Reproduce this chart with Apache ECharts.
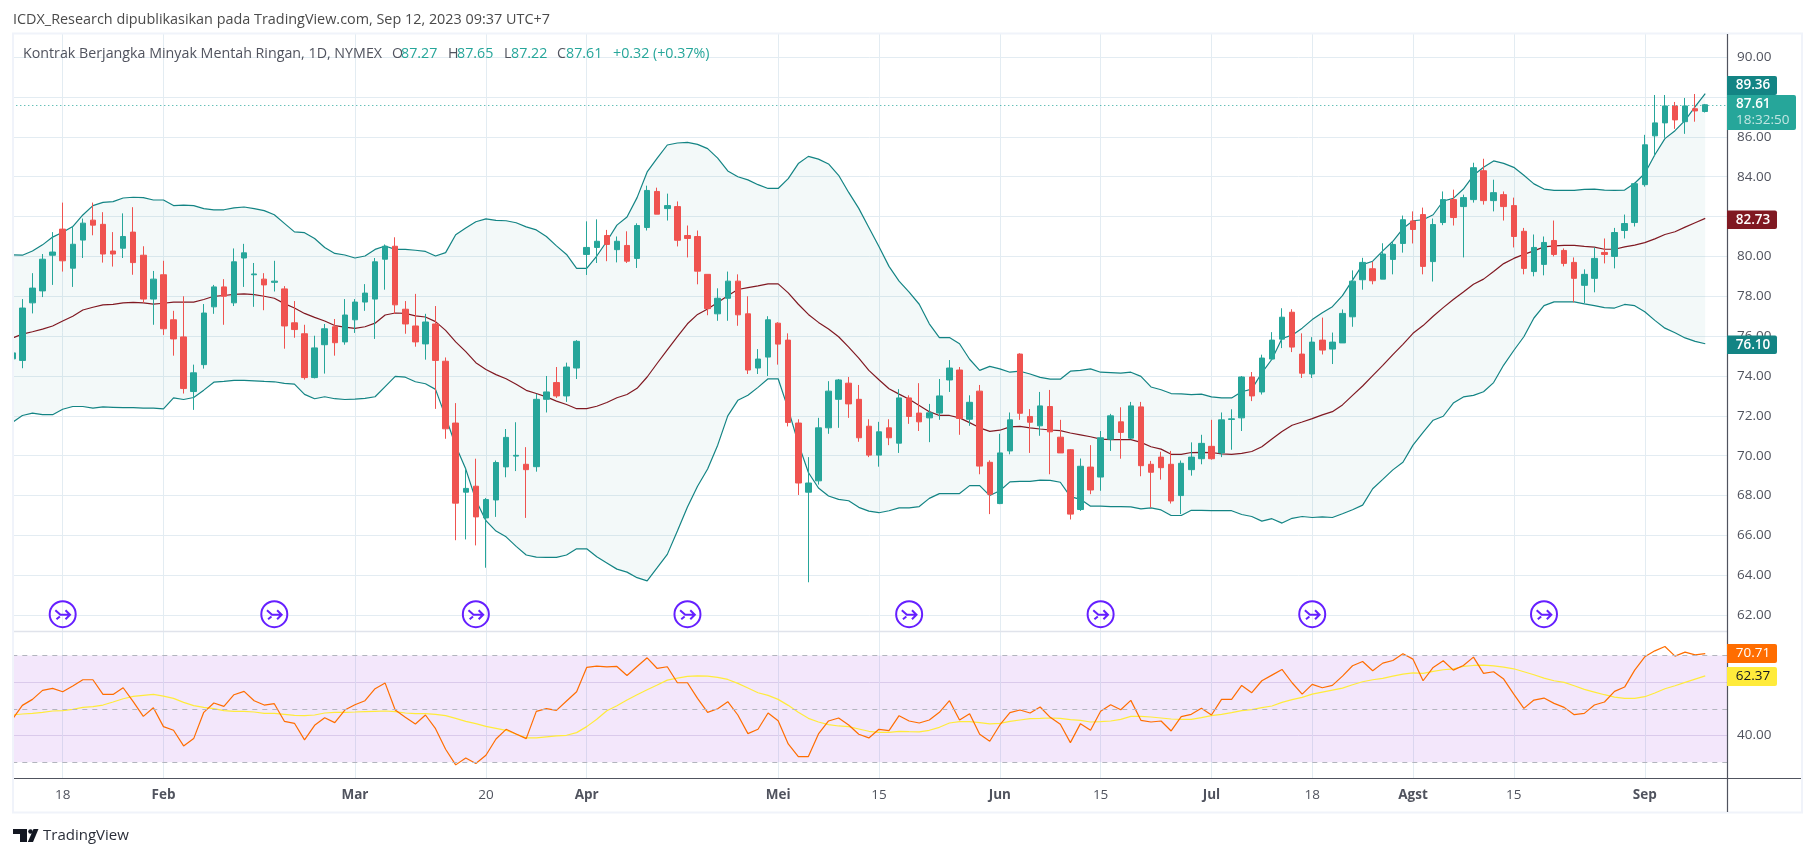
<!DOCTYPE html>
<html><head><meta charset="utf-8"><title>Kontrak Berjangka Minyak Mentah Ringan</title>
<style>html,body{margin:0;padding:0;background:#fff}#c{width:1815px;height:857px}</style>
<script src="https://cdn.jsdelivr.net/npm/echarts@6/dist/echarts.min.js"></script></head>
<body><div id="c"></div>
<script>
const tickIdx=[5,15,34,47,57,76,86,98,108,119,129,139,149,162];
const tickLabels=["18","Feb","Mar","20","Apr","Mei","15","Jun","15","Jul","18","Agst","15","Sep"];
const priceTicks=[62,64,66,68,70,72,74,76,78,80,82,84,86,88,90];
const rsiTicks=[40,60];
const rsiGuides=[30,50,70];
const eventIdx=[5,26,46,67,89,108,129,152];
const opens=[74.86,74.78,77.67,78.27,80.06,81.37,79.41,80.82,81.82,81.61,
80.27,80.41,81.22,80.06,77.86,79.08,76.82,75.96,73.22,74.57,
77.47,78.47,77.67,79.92,79.08,78.86,78.7,78.37,76.67,76.12,
73.92,75.57,76.47,75.71,76.82,77.71,77.86,79.86,80.51,77.35,
76.51,75.61,76.61,74.74,71.64,68.17,68.47,66.88,67.78,69.44,
69.98,69.57,69.45,72.83,73.67,73.0,74.4,80.1,80.45,81.05,
80.34,80.55,79.9,81.45,83.26,82.4,82.5,81.05,81.0,79.1,
77.12,77.9,78.76,77.12,74.4,74.95,76.65,75.8,71.64,68.17,
68.74,71.4,72.83,73.64,72.83,71.48,70.03,71.4,70.63,72.9,
72.14,71.9,72.14,73.8,74.3,71.83,73.24,69.67,67.6,70.24,
75.1,71.97,71.5,72.47,70.93,70.3,67.3,69.43,68.93,70.83,
71.7,70.88,72.45,69.57,69.93,69.57,68.0,69.3,69.85,70.47,
70.14,71.82,71.9,73.95,73.2,74.85,75.85,77.2,75.1,74.1,
75.8,75.35,75.66,76.97,78.83,79.38,78.86,79.85,80.65,81.78,
82.1,79.74,81.7,82.85,82.5,82.85,84.3,82.8,83.1,82.55,
81.26,79.24,79.6,80.8,80.3,79.7,78.55,78.9,80.2,80.0,
81.3,81.7,83.6,86.05,86.7,87.55,86.76,87.41,87.27];
const closes=[75.16,77.41,78.41,79.86,80.22,79.78,80.61,81.67,81.57,80.12,
80.12,81.0,79.69,77.86,78.86,76.37,75.86,73.37,74.16,77.16,
78.47,78.0,79.73,80.18,79.12,78.57,78.76,76.51,76.33,73.92,
75.41,76.37,75.67,77.06,77.71,78.16,79.73,80.51,77.57,76.61,
75.71,76.71,74.78,71.35,67.62,68.36,66.93,67.8,69.66,70.92,
70.02,69.3,72.83,73.2,73.0,74.45,75.74,80.45,80.76,80.6,
80.76,79.76,81.55,83.31,82.12,82.55,80.81,80.9,79.26,77.38,
77.9,78.76,77.07,74.3,74.85,76.82,75.6,71.67,68.63,68.63,
71.4,73.24,73.8,72.6,70.9,70.03,71.2,70.9,72.9,71.97,
71.7,72.15,73.0,74.4,71.87,72.68,69.48,68.07,70.14,71.8,
72.13,71.68,72.5,71.2,70.14,67.07,69.47,68.28,70.9,72.0,
71.17,72.5,69.5,69.17,69.4,67.73,69.62,69.93,70.62,69.85,
71.8,71.85,73.95,73.0,74.9,75.8,76.95,75.45,74.14,75.7,
75.3,75.7,77.14,78.76,79.7,78.78,80.12,80.6,81.84,81.35,
79.5,81.6,82.85,81.95,82.95,84.45,82.8,83.2,82.5,81.0,
79.4,80.45,80.7,80.1,79.65,78.9,79.1,79.9,80.1,81.2,
81.65,83.65,85.6,86.7,87.55,86.85,87.55,87.3,87.61];
const lows=[74.7,74.39,77.14,77.96,78.57,79.24,78.47,79.92,81.06,79.69,
79.49,79.92,79.08,77.67,76.57,76.06,75.02,73.12,72.3,74.37,
77.12,76.57,77.51,78.47,77.47,77.3,78.24,75.37,75.92,73.82,
73.88,74.12,75.02,75.57,76.16,77.27,75.86,78.33,77.12,76.12,
75.47,74.82,72.35,70.85,65.76,65.8,65.5,64.38,66.93,68.92,
69.23,66.88,69.2,72.17,72.9,72.7,73.85,79.07,79.67,79.76,
79.7,79.67,79.42,81.3,82.12,81.8,80.5,79.95,78.6,77.05,
76.77,76.77,76.52,74.1,74.1,74.0,74.57,71.47,68.03,63.65,
68.55,71.1,71.4,71.9,70.7,69.93,69.45,70.53,70.14,71.6,
71.24,70.68,71.8,73.2,71.05,71.5,69.07,67.07,67.57,70.07,
71.8,70.14,71.0,69.07,70.14,66.8,67.23,68.07,68.24,70.24,
69.85,70.83,68.97,67.4,68.8,67.6,67.07,69.0,69.57,69.8,
69.93,70.3,71.24,72.74,73.07,74.85,75.4,75.2,73.9,73.9,
75.08,74.6,75.66,76.47,78.33,78.6,78.86,79.1,80.19,80.65,
79.1,78.74,81.57,81.55,79.95,82.7,82.6,82.26,81.8,80.45,
79.1,79.0,79.05,80.0,79.5,77.7,77.65,78.2,79.65,79.4,
80.9,81.5,83.5,85.03,85.95,86.4,86.15,86.76,87.22];
const highs=[75.4,77.86,79.16,80.12,81.22,82.7,81.53,81.9,82.7,82.22,
81.22,82.16,82.47,80.51,79.27,79.78,77.27,78.0,74.57,77.61,
78.57,78.86,80.4,80.63,79.67,79.16,79.78,78.51,77.76,76.57,
76.02,76.61,76.86,77.86,77.86,78.61,79.92,80.6,80.96,77.76,
78.12,77.12,77.51,74.93,72.64,69.36,69.85,67.88,69.76,71.34,
71.68,70.43,73.1,74.0,74.45,74.67,75.8,81.76,81.86,81.33,
81.0,81.26,81.66,83.55,83.45,83.15,82.76,81.55,81.3,79.1,
78.4,79.24,79.1,78.0,75.35,77.0,76.7,76.14,71.83,69.93,
71.9,73.74,73.85,73.95,73.55,71.83,71.7,71.83,73.34,73.03,
73.64,72.6,73.85,74.8,74.45,73.03,73.55,69.77,71.1,72.17,
75.14,72.34,73.2,73.3,71.8,70.33,69.86,70.53,71.24,72.1,
72.43,72.7,72.7,69.74,70.2,70.24,69.76,70.67,71.05,71.8,
72.17,72.33,74.0,74.2,75.07,76.2,77.4,77.35,76.14,75.95,
76.93,76.18,77.34,79.3,79.93,79.73,80.66,80.76,82.05,82.26,
82.45,81.9,83.26,83.35,83.1,84.7,84.9,83.85,83.26,82.95,
81.43,81.1,81.0,81.8,80.4,79.95,79.35,80.45,80.9,81.43,
82.1,83.7,86.1,88.1,88.1,87.75,87.95,88.15,87.65];
const bbUpper=[80.08,80.06,80.27,80.58,80.97,81.21,81.5,82.08,82.55,82.71,82.75,82.93,82.97,82.95,82.83,82.83,82.55,82.57,82.55,82.4,82.34,82.34,82.44,82.48,82.4,82.3,82.09,81.66,81.23,81.19,80.9,80.45,80.15,80.07,79.92,80.02,80.35,80.52,80.35,80.35,80.31,80.25,80.02,80.19,81.09,
81.43,81.74,81.88,81.81,81.79,81.69,81.48,81.33,81.0,80.53,80.1,79.4,79.4,80.02,80.76,81.57,81.98,82.95,84.24,84.93,85.59,85.69,85.72,85.62,85.41,84.93,84.29,84.0,83.84,83.6,83.41,83.41,83.9,84.66,85.02,84.88,84.64,84.07,83.21,82.41,81.45,80.5,79.5,78.76,
78.21,77.6,76.62,75.93,75.93,75.62,74.84,74.28,74.48,74.36,74.19,74.24,74.1,73.93,73.84,73.84,74.24,74.28,74.36,74.19,74.17,74.14,74.19,73.98,73.45,73.31,73.12,73.1,73.07,73.09,72.95,72.9,72.9,73.21,73.34,74.16,74.84,75.88,76.05,76.4,76.83,77.17,77.48,
78.03,78.81,79.59,79.76,80.28,80.76,81.4,81.79,81.84,82.09,82.78,82.91,83.38,84.07,84.47,84.79,84.67,84.47,84.07,83.64,83.38,83.31,83.31,83.31,83.36,83.38,83.33,83.31,83.33,83.67,84.16,85.1,85.91,86.31,86.83,87.52,88.17];
const bbMiddle=[75.9,76.1,76.22,76.35,76.51,76.76,77.0,77.31,77.45,77.57,77.59,77.67,77.69,77.67,77.61,77.65,77.71,77.71,77.71,77.84,78.0,78.04,78.1,78.12,78.08,78.0,77.9,77.63,77.41,77.14,76.94,76.76,76.53,76.45,76.39,76.47,76.65,77.06,77.16,77.14,77.02,76.96,76.73,76.29,75.71,
75.22,74.67,74.33,74.07,73.86,73.59,73.28,73.12,72.95,72.74,72.57,72.36,72.36,72.48,72.67,72.91,73.07,73.38,73.95,74.64,75.31,75.97,76.62,77.09,77.36,77.69,78.03,78.34,78.43,78.52,78.62,78.62,78.17,77.6,77.09,76.69,76.36,75.97,75.45,74.9,74.28,73.81,73.36,73.09,
72.83,72.52,72.21,72.02,72.02,71.9,71.66,71.4,71.22,71.28,71.45,71.47,71.4,71.34,71.29,71.26,71.14,71.05,70.95,70.83,70.81,70.81,70.81,70.67,70.45,70.33,70.07,70.07,70.16,70.17,70.16,70.09,70.07,70.12,70.21,70.45,70.84,71.21,71.53,71.69,71.86,72.05,72.21,
72.55,73.03,73.5,74.02,74.53,75.07,75.59,76.14,76.53,77.0,77.43,77.84,78.21,78.6,78.86,79.24,79.64,79.9,80.1,80.28,80.48,80.53,80.55,80.55,80.5,80.47,80.36,80.36,80.48,80.57,80.69,80.88,81.1,81.24,81.47,81.69,81.91];
const bbLower=[71.67,72.02,72.14,72.06,72.06,72.33,72.47,72.47,72.39,72.45,72.43,72.41,72.41,72.39,72.39,72.35,72.9,72.82,72.92,73.29,73.69,73.73,73.78,73.78,73.76,73.73,73.71,73.63,73.59,73.08,72.86,72.96,72.86,72.82,72.84,72.88,72.96,73.47,73.98,73.94,73.71,73.61,73.33,71.95,70.5,69.33,67.78,
66.74,66.22,65.93,65.45,65.02,64.91,64.9,64.9,65.02,65.33,65.33,64.93,64.62,64.31,64.16,63.88,63.72,64.38,65.05,66.22,67.43,68.47,69.33,70.53,72.0,72.78,73.03,73.43,73.86,73.86,72.34,70.62,69.16,68.38,67.98,67.81,67.74,67.41,67.22,67.14,67.24,67.38,
67.38,67.45,67.86,68.1,68.1,68.1,68.5,68.5,68.0,68.24,68.69,68.71,68.71,68.78,68.76,68.67,67.95,67.81,67.47,67.47,67.45,67.45,67.43,67.33,67.38,67.28,67.0,67.0,67.26,67.26,67.24,67.24,67.24,67.05,66.95,66.72,66.84,66.62,66.86,66.95,66.9,66.93,66.9,
67.09,67.29,67.52,68.34,68.81,69.29,69.67,70.53,71.17,71.78,71.98,72.64,72.95,73.03,73.21,73.67,74.55,75.28,75.97,76.91,77.53,77.72,77.72,77.72,77.62,77.53,77.43,77.41,77.59,77.53,77.22,76.79,76.4,76.17,75.91,75.74,75.62];
const rsi=[46.09,51.32,53.56,56.92,57.67,56.43,58.54,60.91,60.91,55.43,55.43,57.92,52.69,47.21,50.45,43.35,41.98,36.13,38.87,48.71,52.19,50.95,55.31,56.55,53.06,51.44,51.94,45.34,44.6,38.37,43.85,46.71,44.84,49.58,51.57,53.06,57.55,59.66,49.58,46.84,44.35,47.71,42.6,34.88,29.03,31.64,29.53,32.64,38.74,42.35,40.61,38.87,49.08,50.07,49.45,52.94,56.43,65.52,66.01,65.77,
65.89,62.53,65.89,69.13,65.14,65.77,59.79,59.79,53.94,48.71,50.07,52.69,47.71,40.73,42.35,48.46,45.59,36.87,32.14,32.14,40.61,45.47,46.59,43.97,40.49,39.12,42.35,41.86,47.46,45.47,44.72,45.84,48.71,53.06,45.84,48.21,40.49,37.87,43.97,48.58,49.58,48.46,50.7,46.84,44.22,37.37,44.47,41.98,49.08,51.57,49.7,53.19,45.72,45.09,45.47,41.73,47.09,47.96,50.2,
47.71,53.56,53.56,58.79,56.05,60.54,62.65,64.77,59.79,55.55,59.17,57.92,58.79,62.28,66.14,67.76,64.27,67.14,68.13,70.62,68.63,60.54,65.52,68.01,64.52,66.26,69.38,63.28,63.9,61.16,55.55,50.2,53.31,54.06,52.07,50.57,47.83,48.33,51.44,52.57,56.55,58.17,64.52,69.5,71.74,73.36,69.75,71.25,70.25,70.71];
const rsiMa=[47.71,48.08,48.33,48.71,49.2,49.33,49.83,50.57,50.82,51.44,52.57,53.81,54.68,55.06,55.43,54.81,53.94,52.44,51.2,50.57,50.07,49.33,49.08,49.08,48.83,48.33,48.33,47.96,47.58,47.46,47.71,48.46,48.71,48.71,48.83,48.96,49.08,49.2,48.96,48.46,48.21,48.21,47.96,47.46,46.46,45.34,44.47,43.47,42.73,41.98,40.49,39.12,39.12,39.49,39.86,40.11,41.11,43.35,46.09,49.33,
51.2,53.31,55.31,57.17,58.92,60.78,61.53,62.15,62.4,62.28,61.78,61.03,59.54,57.8,56.05,55.06,53.56,51.32,48.71,46.46,45.09,44.1,43.6,43.35,42.48,41.61,41.23,41.23,41.61,41.48,41.36,41.98,43.1,44.72,45.22,45.22,44.84,44.35,44.6,45.34,45.84,46.34,46.46,46.59,46.46,45.97,45.72,45.09,45.22,45.47,46.09,47.21,47.21,46.96,46.59,46.21,46.09,46.09,46.71,
47.46,47.96,48.58,49.33,49.7,50.45,51.07,52.44,53.44,54.31,55.55,56.3,57.05,57.8,59.04,60.16,60.91,61.41,62.28,63.03,63.52,63.28,64.02,64.65,65.02,65.89,66.26,66.39,66.14,65.64,65.02,63.9,62.78,61.53,60.54,59.91,58.67,57.3,56.3,55.31,54.43,53.94,53.94,54.56,55.93,57.55,58.67,59.91,61.16,62.37];

const GRID='#e3ecf2',TEAL='#26a69a',RED='#ef5350',BB='#138484',MID='#801922',TXT='#50535e';
const FONT='"Open Sans","Noto Sans",sans-serif';
const idx=opens.map((_,i)=>i);
const XMAX=170.16;
const boldTicks=new Set(["Feb","Mar","Apr","Mei","Jun","Jul","Agst","Sep"]);
const fmtX=v=>{const l=tickLabels[tickIdx.indexOf(v)];return l===undefined?'':(boldTicks.has(l)?'{b|'+l+'}':'{n|'+l+'}');};
const ICON='path://M12 0.5a11.5 11.5 0 1 0 0.001 0Z M5.5 8.5L10 12.5H18 M14.5 8.5L18.5 12.5L14.5 16.5 M6.5 16.5L9.5 14';
const pair=a=>a.map((v,i)=>[i,v]);

function tag(x,y,w,h,fill,txt,col,bold){return {type:'group',z:200,children:[
 {type:'rect',shape:{x:x,y:y,width:w,height:h,r:[0,2,2,0]},style:{fill:fill},silent:true,z:200},
 {type:'text',style:{x:x+26,y:y+h/2,text:txt,fill:col,font:(bold?'600 ':'')+'13.5px '+FONT,textAlign:'center',textVerticalAlign:'middle'},silent:true,z:201}]};}
function txt(x,y,t,col,size){return {type:'text',z:200,silent:true,style:{x:x,y:y,text:t,fill:col,font:(size||13.5)+'px '+FONT,textVerticalAlign:'middle'}};}
function bandFill(params,api){
 const up=idx.map(i=>api.coord([i,bbUpper[i]]));
 const lo=idx.map(i=>api.coord([i,bbLower[i]])).reverse();
 return {type:'polygon',shape:{points:up.concat(lo)},style:{fill:'rgba(19,132,132,0.05)'},silent:true};
}

const chart=echarts.init(document.getElementById('c'),null,{renderer:'canvas'});
chart.setOption({
 animation:false,backgroundColor:'#fff',
 grid:[{left:12.3,right:88,top:34,height:597.3},{left:12.3,right:88,top:631.3,height:147}],
 xAxis:[0,1].map(g=>({type:'value',gridIndex:g,min:0,max:XMAX,
  axisLine:{show:false},
  axisTick:{show:false,customValues:tickIdx},
  splitLine:{show:true,lineStyle:{color:GRID,width:1}},
  axisLabel:g===1?{show:true,customValues:tickIdx,formatter:fmtX,margin:10,
     rich:{b:{fontFamily:FONT,fontSize:13.5,fontWeight:'bold',color:TXT},n:{fontFamily:FONT,fontSize:13.5,color:TXT}}}:{show:false,customValues:tickIdx}})),
 yAxis:[
  {type:'value',gridIndex:0,position:'right',min:61.19,max:91.16,
   axisLine:{show:false},axisTick:{show:false,customValues:priceTicks},
   splitLine:{show:true,lineStyle:{color:GRID,width:1}},
   axisLabel:{customValues:priceTicks,margin:10,color:TXT,fontFamily:FONT,fontSize:13.5,formatter:v=>v.toFixed(2),showMinLabel:true,showMaxLabel:true}},
  {type:'value',gridIndex:1,position:'right',min:24,max:79.06,
   axisLine:{show:false},axisTick:{show:false,customValues:rsiTicks},
   splitLine:{show:true,lineStyle:{color:'#e3dfee',width:1}},
   axisLabel:{customValues:rsiTicks,margin:10,color:TXT,fontFamily:FONT,fontSize:13.5,formatter:v=>v.toFixed(2)}}
 ],
 series:[
  {name:'BB fill',type:'custom',xAxisIndex:0,yAxisIndex:0,z:1,data:[[0,bbUpper[0]]],renderItem:bandFill,silent:true,clip:true},
  {name:'BB lower',type:'line',xAxisIndex:0,yAxisIndex:0,data:pair(bbLower),showSymbol:false,symbol:'none',z:2,lineStyle:{color:BB,width:1.2}},
  {name:'BB upper',type:'line',xAxisIndex:0,yAxisIndex:0,data:pair(bbUpper),showSymbol:false,symbol:'none',z:2,lineStyle:{color:BB,width:1.2}},
  {name:'BB basis',type:'line',xAxisIndex:0,yAxisIndex:0,data:pair(bbMiddle),showSymbol:false,symbol:'none',z:3,lineStyle:{color:MID,width:1.2}},
  {name:'Price',type:'candlestick',xAxisIndex:0,yAxisIndex:0,z:4,barWidth:6,clip:true,
   data:idx.map(i=>[i,opens[i],closes[i],lows[i],highs[i]]),encode:{x:0,y:[1,2,3,4]},
   itemStyle:{color:TEAL,color0:RED,borderColor:TEAL,borderColor0:RED,borderWidth:1},
   markLine:{silent:true,symbol:'none',label:{show:false},animation:false,
     data:[{yAxis:closes[closes.length-1]}],lineStyle:{color:TEAL,type:[1,3],width:1,opacity:1}}},
  {name:'Events',type:'scatter',xAxisIndex:0,yAxisIndex:0,z:5,data:eventIdx.map(i=>[i,62.05]),
   symbol:ICON,symbolSize:26,itemStyle:{color:'rgba(0,0,0,0)',borderColor:'#651fff',borderWidth:2,opacity:1}},
  {name:'RSI',type:'line',xAxisIndex:1,yAxisIndex:1,data:pair(rsi),showSymbol:false,symbol:'none',z:4,lineStyle:{color:'#ff6d00',width:1.2},
   markArea:{silent:true,itemStyle:{color:'rgba(149,39,220,0.11)'},data:[[{yAxis:30},{yAxis:70}]]},
   markLine:{silent:true,symbol:'none',label:{show:false},animation:false,lineStyle:{color:'#b2b5be',type:[5,5],width:1,opacity:1},data:rsiGuides.map(v=>({yAxis:v}))}},
  {name:'RSI MA',type:'line',xAxisIndex:1,yAxisIndex:1,data:pair(rsiMa),showSymbol:false,symbol:'none',z:3,lineStyle:{color:'#ffeb3b',width:1.2}}
 ],
 graphic:{elements:[
  {type:'rect',z:149,silent:true,shape:{x:0,y:34,width:12,height:745},style:{fill:'#fff'}},
  {type:'rect',z:150,silent:true,shape:{x:13,y:33.5,width:1789,height:779},style:{fill:'none',stroke:'#f0f3fa',lineWidth:2}},
  {type:'line',z:151,silent:true,shape:{x1:14,y1:631.5,x2:1727,y2:631.5},style:{stroke:'#e0e3eb',lineWidth:1.5}},
  {type:'line',z:151,silent:true,shape:{x1:14,y1:778.5,x2:1801,y2:778.5},style:{stroke:'#50535e',lineWidth:1.2}},
  {type:'line',z:151,silent:true,shape:{x1:1727.5,y1:34,x2:1727.5,y2:812},style:{stroke:'#50535e',lineWidth:1.2}},
  txt(13,20,'ICDX_Research dipublikasikan pada TradingView.com, Sep 12, 2023 09:37 UTC+7','#4a4a4a',14.4),
  txt(23,54,'Kontrak Berjangka Minyak Mentah Ringan, 1D, NYMEX',TXT,14.25),
  txt(392,54,'O',TXT,14.25),txt(401,54,'87.27',TEAL,14.25),
  txt(448,54,'H',TXT,14.25),txt(457,54,'87.65',TEAL,14.25),
  txt(504,54,'L',TXT,14.25),txt(511,54,'87.22',TEAL,14.25),
  txt(557,54,'C',TXT,14.25),txt(566,54,'87.61',TEAL,14.25),
  txt(613,54,'+0.32',TEAL,14.25),txt(653,54,'(+0.37%)',TEAL,14.25),
  tag(1727,76,50,19,BB,'89.36','#fff',true),
  {type:'rect',z:202,silent:true,shape:{x:1727,y:95,width:69,height:35,r:[0,2,2,0]},style:{fill:TEAL}},
  {type:'text',z:203,silent:true,style:{x:1736,y:104.5,text:'87.61',fill:'#fff',font:'600 13.5px '+FONT,textVerticalAlign:'middle'}},
  {type:'text',z:203,silent:true,style:{x:1736,y:120.5,text:'18:32:50',fill:'rgba(255,255,255,.72)',font:'13.5px '+FONT,textVerticalAlign:'middle'}},
  tag(1727,210.5,50,18.5,MID,'82.73','#fff',true),
  tag(1727,335.5,50,18.5,BB,'76.10','#fff',true),
  tag(1727,644,50,19,'#ff6d00','70.71','#fff',false),
  tag(1727,667,50,19,'#ffeb3b','62.37','#131722',false),
  {type:'polygon',z:200,silent:true,shape:{points:[[13,829],[27,829],[27,842],[20,842],[20,834],[13,834]]},style:{fill:'#131722'}},
  {type:'polygon',z:200,silent:true,shape:{points:[[33.5,829],[38.5,829],[33,842],[27.8,842]]},style:{fill:'#131722'}},
  {type:'circle',z:200,silent:true,shape:{cx:30.5,cy:831.5,r:2.3},style:{fill:'#131722'}},
  txt(43,836,'TradingView','#2a2e39',15)
 ]}
});
</script></body></html>
